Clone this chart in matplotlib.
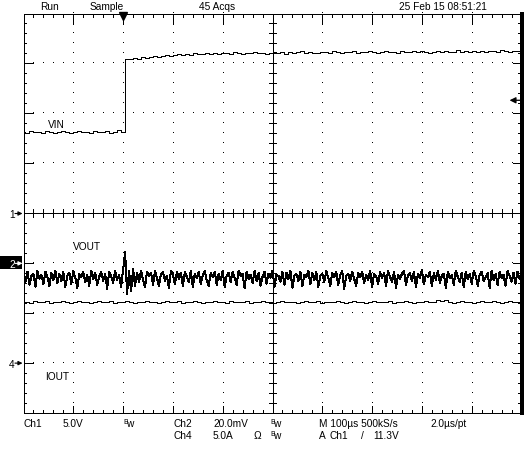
import numpy as np
import matplotlib
matplotlib.use("Agg")
import matplotlib.pyplot as plt
from matplotlib.patches import Rectangle

# ---------------- data ----------------
t_start, t_end = -200.0, 800.0          # µs, 100 µs/div, trigger at t = 0
ch1_scale, ch2_scale, ch4_scale = 5.0, 20.0, 5.0   # V/div, mV/div, A/div
ch1_pos, ch2_pos, ch4_pos = 0.0, -1.0, -3.0        # ground markers (div)
trig_level = 11.3                                   # V

# VIN (V), 8 µs per sample
vin_v = [8.1, 8.0, 8.2, 8.1, 8.1, 8.0, 8.2, 8.1, 8.0, 8.1,
         8.2, 8.1, 8.0, 8.1, 8.2, 8.1, 8.1, 8.0, 8.2, 8.1,
         8.1, 8.2, 8.0, 8.1, 8.3, 8.1,
         15.4, 15.4, 15.5, 15.4, 15.6, 15.5, 15.6, 15.7, 15.6, 15.7,
         15.8, 15.7, 15.8, 15.9, 15.8, 15.9, 15.8, 16.0, 15.9, 15.9,
         16.0, 15.9, 16.0, 15.9, 16.0, 16.0, 15.9, 16.1, 16.0, 15.9,
         16.0, 16.0, 16.1, 16.0, 16.0, 15.9, 16.0, 16.1, 16.0, 16.1,
         15.9, 16.1, 16.0, 16.1, 16.2, 16.0, 16.1, 16.0, 16.0, 16.1,
         16.1, 16.0, 16.2, 16.1, 16.0, 16.1, 16.1, 16.2, 16.0, 16.1,
         16.1, 16.2, 16.1, 16.0, 16.1, 16.2, 16.1, 16.1, 16.0, 16.2,
         16.1, 16.1, 16.2, 16.1, 16.2, 16.1, 16.0, 16.1, 16.2, 16.1,
         16.2, 16.1, 16.1, 16.3, 16.1, 16.2, 16.1, 16.2, 16.1, 16.2,
         16.1, 16.2, 16.2, 16.1, 16.3, 16.2, 16.1, 16.2, 16.2, 16.1]

# VOUT ripple (mV, relative to ch2 marker), 4 µs per sample
vout_mv = [-4.0, -7.6, -3.6, -8.8, -5.2, -4.4, -9.6, -3.2, -6.4, -4.8,
           -8.4, -3.6, -5.6, -9.2, -4.0, -6.8, -3.2, -8.0, -4.4, -7.2,
           -3.6, -9.6, -5.2, -4.0, -8.4, -3.2, -6.0, -10.0, -4.4, -5.6,
           -3.6, -7.6, -4.8, -9.2, -3.2, -6.4, -4.0, -8.8, -5.6, -3.6,
           -7.2, -4.4, -10.4, -3.6, -5.2, -8.0, -3.2, -6.8, -4.8, -9.6,
           -2.8, 4.4, -12.4, -3.2, -11.2, -2.4, -9.2, -4.0, -7.6, -3.2,
           -6.8, -9.6, -3.6, -5.2, -4.0, -8.8, -3.2, -6.0, -9.2, -4.4,
           -3.6, -7.2, -5.2, -10.0, -3.2, -4.8, -8.4, -3.6, -6.4, -4.0,
           -9.2, -3.6, -5.6, -7.6, -3.2, -9.6, -4.4, -6.0, -3.6, -8.4,
           -4.8, -3.2, -7.2, -9.2, -4.0, -5.6, -3.6, -8.8, -4.4, -6.8,
           -3.2, -9.6, -5.2, -4.0, -7.6, -3.6, -6.0, -8.8, -3.2, -5.2,
           -4.4, -10.0, -3.6, -6.4, -4.8, -8.0, -3.2, -7.2, -4.0, -9.2,
           -5.6, -3.6, -8.4, -4.4, -6.0, -3.2, -9.6, -4.8, -5.2, -7.6,
           -3.6, -8.8, -4.0, -6.4, -3.2, -10.0, -5.2, -4.4, -7.2, -3.6,
           -9.2, -4.8, -5.6, -3.2, -8.4, -4.0, -6.8, -3.6, -9.6, -5.2,
           -4.4, -7.6, -3.2, -6.0, -9.2, -4.0, -5.6, -3.6, -8.8, -4.8,
           -3.2, -10.4, -5.2, -4.4, -7.2, -3.6, -6.4, -9.2, -4.0, -5.6,
           -3.6, -8.0, -4.8, -6.8, -3.2, -9.6, -4.4, -5.2, -8.4, -3.6,
           -6.0, -4.0, -9.2, -3.2, -5.6, -7.6, -3.6, -10.0, -4.8, -6.4,
           -4.4, -3.2, -8.8, -5.2, -4.0, -7.2, -3.6, -9.6, -4.4, -6.0,
           -2.8, -8.4, -4.8, -5.6, -3.6, -9.2, -4.0, -6.8, -3.2, -8.0,
           -5.2, -4.4, -10.0, -3.6, -6.0, -4.8, -8.8, -3.2, -5.6, -7.6,
           -4.0, -9.6, -3.6, -6.4, -4.4, -8.4, -3.2, -5.2, -9.2, -4.8,
           -3.6, -7.2, -5.6, -4.0, -10.0, -3.2, -6.8, -4.4, -8.8, -3.6,
           -6.0, -4.8, -9.2, -3.2, -5.2, -7.6, -4.0, -8.4, -3.6, -6.4,
           -4.4]

# IOUT (A), 8 µs per sample
iout_a = [6.1, 6.1, 6.0, 6.2, 6.1, 6.1, 6.2, 6.0, 6.1, 6.1,
          6.2, 6.1, 6.0, 6.1, 6.2, 6.1, 6.1, 6.0, 6.1, 6.2,
          6.1, 6.1, 6.2, 6.0, 6.1, 6.1, 6.2, 6.1, 6.0, 6.1,
          6.1, 6.2, 6.1, 6.1, 6.0, 6.1, 6.2, 6.1, 6.1, 6.2,
          6.0, 6.1, 6.1, 6.2, 6.1, 6.0, 6.1, 6.1, 6.2, 6.1,
          6.1, 6.0, 6.2, 6.1, 6.1, 6.1, 6.2, 6.0, 6.1, 6.1,
          6.2, 6.1, 6.1, 6.0, 6.1, 6.2, 6.1, 6.1, 6.1, 6.0,
          6.1, 6.2, 6.1, 6.1, 6.2, 6.0, 6.1, 6.1, 6.1, 6.2,
          6.1, 6.0, 6.1, 6.2, 6.1, 6.1, 6.0, 6.1, 6.2, 6.1,
          6.1, 6.1, 6.2, 6.0, 6.1, 6.1, 6.2, 6.1, 6.0, 6.1,
          6.1, 6.2, 6.1, 6.1, 6.3, 6.2, 6.3, 6.1, 6.0, 6.1,
          6.2, 6.1, 6.1, 6.0, 6.1, 6.2, 6.1, 6.1, 6.2, 6.1,
          6.0, 6.1, 6.2, 6.1, 6.1, 6.1]

header_texts = ["Run", "Sample", "45 Acqs", "25 Feb 15 08:51:21"]
trace_labels = ["VIN", "VOUT", "IOUT"]
channel_ids = ["1", "2", "4"]

# ---------------- figure ----------------
W, H = 525, 452
fig = plt.figure(figsize=(W / 100, H / 100), dpi=100, facecolor="white")
FONT = "Liberation Sans"
FS = 7.3

ov = fig.add_axes([0, 0, 1, 1])
ov.set_xlim(0, W)
ov.set_ylim(H, 0)
ov.axis("off")

gl, gr, gt, gb = 23.5, 521.5, 14.5, 413.5
ax = fig.add_axes([gl / W, 1 - gb / H, (gr - gl) / W, (gb - gt) / H])
ax.set_xlim(0, 10)
ax.set_ylim(-4, 4)
ax.axis("off")

LW = 0.72
K = dict(color="black", antialiased=False)

# dotted graticule
ys_all = np.arange(-4, 4.001, 0.2)
xs_all = np.arange(0, 10.001, 0.2)
for i in range(1, 10):
    if i != 5:
        ax.plot(np.full_like(ys_all, i), ys_all, ",", color="black", clip_on=False)
for j in range(-3, 4):
    if j != 0:
        ax.plot(xs_all, np.full_like(xs_all, j), ",", color="black", clip_on=False)

# centre cross with ticks
ax.plot([0, 10], [0, 0], lw=LW, **K)
ax.plot([5, 5], [-4, 4], lw=LW, **K)
ax.vlines(xs_all, -0.08, 0.08, lw=LW, **K)
ax.hlines(ys_all, 4.92, 5.08, lw=LW, **K)

# border
ax.plot([0, 10, 10, 0, 0], [4, 4, -4, -4, 4], lw=LW, clip_on=False, **K)
ax.plot([10.01, 10.01], [-4, 4], lw=1.6, clip_on=False, **K)
maj_x = np.arange(0, 11, 1)
maj_y = np.arange(-4, 5, 1)
ax.vlines(xs_all, 4 - 0.07, 4, lw=LW, **K)
ax.vlines(maj_x, 4 - 0.22, 4, lw=LW, **K)
ax.vlines(xs_all, -4, -4 + 0.06, lw=LW, **K)
ax.vlines(maj_x, -4, -4 + 0.14, lw=LW, **K)
ax.hlines(ys_all, 0, 0.06, lw=LW, **K)
ax.hlines(maj_y, 0, 0.2, lw=LW, **K)
ax.hlines(ys_all, 10 - 0.07, 10, lw=LW, **K)
ax.hlines(maj_y, 10 - 0.18, 10, lw=LW, **K)

# traces
def tdiv(n):
    return (np.linspace(t_start, t_end, n) - t_start) / 100.0

ax.plot(tdiv(len(vin_v)), np.array(vin_v) / ch1_scale + ch1_pos,
        lw=LW, drawstyle="steps-mid", **K)
ax.plot(tdiv(len(vout_mv)), np.array(vout_mv) / ch2_scale + ch2_pos,
        lw=LW, **K)
ax.plot(tdiv(len(iout_a)), np.array(iout_a) / ch4_scale + ch4_pos,
        lw=LW, drawstyle="steps-mid", **K)

# trigger position marker (top) and trigger level arrow (right)
ax.plot([(0 - t_start) / 100], [4 - 0.06], marker="v", ms=6, color="black",
        clip_on=False)
ax.annotate("", xy=(9.76, trig_level / ch1_scale + ch1_pos),
            xytext=(9.98, trig_level / ch1_scale + ch1_pos),
            arrowprops=dict(arrowstyle="-|>", lw=0.9, color="black",
                            mutation_scale=9, shrinkA=0, shrinkB=0))

def T(x, y, s, **kw):
    d = dict(fontsize=FS, family=FONT, va="baseline", ha="left", color="black")
    d.update(kw)
    ov.text(x, y, s, **d)

# header
T(40, 10, header_texts[0])
T(90, 10, header_texts[1])
T(199, 10, header_texts[2])
T(399, 10, header_texts[3])

# trace labels
T(48, 128, trace_labels[0])
T(73, 250, trace_labels[1])
T(45, 380, trace_labels[2])

# channel markers on the left
def ypix(pos):
    return 214.5 - pos * 49.875

for cid, pos, boxed in [(channel_ids[0], ch1_pos, False),
                        (channel_ids[1], ch2_pos, True),
                        (channel_ids[2], ch4_pos, False)]:
    y = ypix(pos)
    col = "white" if boxed else "black"
    if boxed:
        ov.add_patch(Rectangle((0, y - 7), 22, 13, color="black", lw=0))
    T(9, y + 3.5, cid, color=col)
    ov.annotate("", xy=(22.5, y), xytext=(15, y),
                arrowprops=dict(arrowstyle="-|>", lw=0.8, color=col,
                                mutation_scale=6, shrinkA=0, shrinkB=0))

# bottom status lines
def bw(x, y):
    T(x, y - 2.5, "B", fontsize=5)
    T(x + 3.5, y, "w")

r1, r2 = 427, 439
T(24, r1, "Ch1")
T(63, r1, "5.0V")
bw(123, r1)
T(173, r1, "Ch2")
T(213, r1, "20.0mV")
bw(270, r1)
T(319, r1, "M 100µs 500kS/s")
T(430, r1, "2.0µs/pt")
T(173, r2, "Ch4")
T(213, r2, "5.0A")
T(254, r2, "Ω")
bw(270, r2)
T(319, r2, "A")
T(330, r2, "Ch1")
T(361, r2, "/")
T(373, r2, "11.3V")

fig.savefig("out.png", dpi=100, facecolor="white")
